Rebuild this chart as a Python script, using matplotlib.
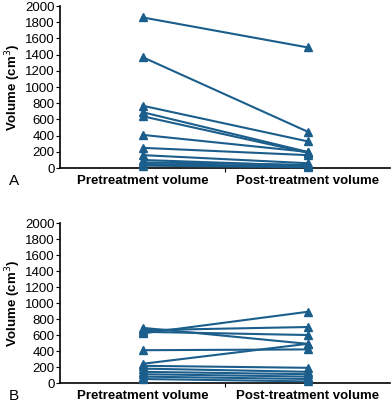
import matplotlib
matplotlib.use("Agg")
import matplotlib.pyplot as plt

plt.rcParams['font.family'] = ['Liberation Sans', 'DejaVu Sans']

categories = ["Pretreatment volume", "Post-treatment volume"]
yticks = [0, 200, 400, 600, 800, 1000, 1200, 1400, 1600, 1800, 2000]

# Panel A: pairs (pre, post)
pre_a = [1860, 1370, 770, 690, 640, 410, 250, 160, 100, 70, 50, 30]
post_a = [1490, 450, 330, 200, 190, 200, 160, 60, 30, 40, 20, 10]

# Panel B
pre_b = [690, 660, 640, 620, 410, 240, 215, 180, 140, 110, 80, 50]
post_b = [490, 700, 600, 890, 420, 490, 190, 140, 110, 80, 50, 20]

color = "#1b5e8c"

fig = plt.figure(figsize=(3.91, 4.05), dpi=100)
axA = fig.add_axes([0.1535, 0.585, 0.844, 0.4])
axB = fig.add_axes([0.1535, 0.0543, 0.844, 0.395])

xpos = [0.5, 1.5]
for ax, pre, post, letter in [(axA, pre_a, post_a, "A"), (axB, pre_b, post_b, "B")]:
    for a, b in zip(pre, post):
        ax.plot(xpos, [a, b], color=color, lw=1.5, marker="^", ms=5.5,
                mec=color, mfc=color, clip_on=False, zorder=3)
    ax.set_xlim(0, 2)
    ax.set_ylim(0, 2000)
    ax.set_yticks(yticks)
    ax.set_yticklabels([str(v) for v in yticks], fontsize=9.5)
    ax.set_xticks([1])
    ax.set_xticklabels([""])
    ax.set_xticks(xpos, minor=True)
    ax.set_xticklabels(categories, minor=True, fontsize=9.5, fontweight="bold")
    ax.tick_params(axis="x", which="minor", length=0, pad=5)
    ax.tick_params(axis="x", which="major", length=3, width=0.8)
    ax.tick_params(axis="y", length=3, width=0.8, pad=1)
    ax.spines["top"].set_visible(False)
    ax.spines["right"].set_visible(False)
    ax.spines["left"].set_linewidth(1.2)
    ax.spines["bottom"].set_linewidth(1.2)
    ax.set_ylabel("Volume (cm$^3$)", fontsize=9.5, fontweight="bold", labelpad=1)
    ax.text(-0.14, -0.08, letter, transform=ax.transAxes, fontsize=11,
            ha="center", va="center")

fig.savefig("out.png", dpi=100)
